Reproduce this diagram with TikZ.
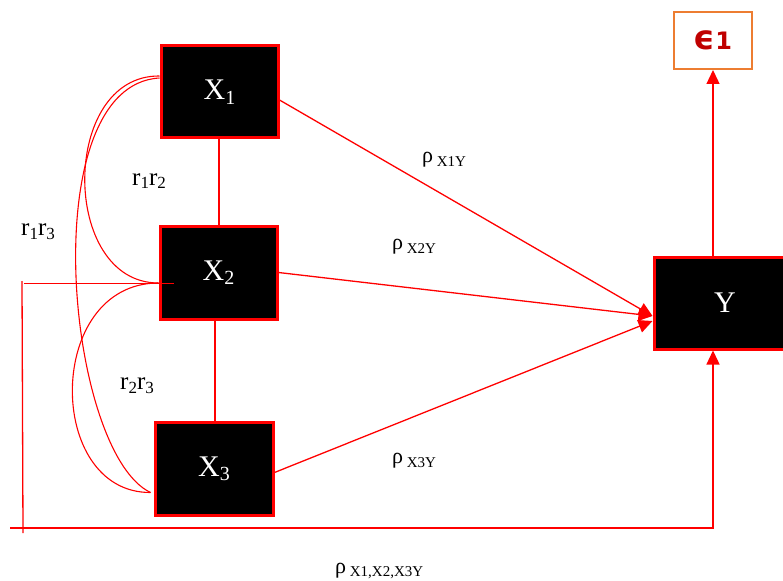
\documentclass[tikz,border=0pt]{standalone}
\usepackage{fontspec}
\setmainfont{Liberation Serif}
\newfontfamily\epsfont{DejaVu Sans}
\usetikzlibrary{arrows.meta}
\newcommand{\mysb}[2]{{\fontsize{#1}{#1}\selectfont\raisebox{-0.22em}{#2}}}
\definecolor{lnred}{HTML}{FF0000}
\definecolor{orbord}{HTML}{ED7D31}
\definecolor{dkred}{HTML}{C00000}
\tikzset{
  varbox/.style={draw=lnred, line width=3pt, fill=black, text=white, inner sep=0pt,
    font=\fontsize{30}{30}\selectfont},
  conn/.style={draw=lnred, line width=1.3pt},
  arr/.style={conn, -{Triangle[length=14pt,width=13pt]}},
  lbl/.style={inner sep=0pt, text=black, font=\fontsize{25}{25}\selectfont},
  rholbl/.style={inner sep=0pt, anchor=west, text=black, font=\fontsize{22}{22}\selectfont},
}
\begin{document}
\begin{tikzpicture}[x=1pt,y=-1pt]
\clip (0,0) rectangle (783,580);
\useasboundingbox (0,0) rectangle (783,580);
\fill[white] (0,0) rectangle (783,580);
% boxes
\node[varbox, minimum width=117pt, minimum height=92pt] (X1) at (219.5,92) {X\mysb{20}{1}};
\node[varbox, minimum width=117pt, minimum height=93pt] (X2) at (218.5,272.5) {X\mysb{20}{2}};
\node[varbox, minimum width=118pt, minimum height=93pt] (X3) at (214,468.5) {X\mysb{20}{3}};
\node[varbox, minimum width=132pt, minimum height=92pt, text width=132pt, align=center] (Y) at (720,303) {\hspace*{4pt}Y\hspace*{-6pt}};
\node[draw=orbord, line width=2pt, fill=white, minimum width=78pt, minimum height=57pt, inner sep=0pt,
  text=dkred, font=\epsfont\bfseries\fontsize{24}{24}\selectfont] (e1) at (713,40.5) {\scalebox{1.4}{ϵ}1};
% vertical links
\draw[conn] (X1.south -| 219,0) -- (X2.north -| 219,0);
\draw[conn] (X2.south -| 215,0) -- (X3.north -| 215,0);
% paths to Y
\coordinate (yin1) at ([yshift=-13pt]Y.west);
\coordinate (yin3) at ([yshift=-18pt]Y.west);
\draw[arr] ([yshift=-8pt]X1.east) -- (yin1);
\draw[arr] (X2.east) -- (yin1);
\draw[arr] ([yshift=-4pt]X3.east) -- (yin3);
% Y to e1
\draw[arr] (Y.north -| e1.south) -- (e1.south);
% correlation curves
\coordinate (c1a) at ([yshift=16pt]X1.west);
\coordinate (c1b) at ([yshift=14pt]X1.west);
\coordinate (c2) at ([yshift=-10.5pt]X2.west);
\coordinate (c3) at ([xshift=-3pt,yshift=-24pt]X3.west);
\draw[conn, line width=1.1pt] (c1a) .. controls (60,75) and (60,283) .. (c2);
\draw[conn, line width=1.1pt] (c1b) .. controls (33,85) and (66,452) .. (c3);
\draw[conn, line width=1.1pt] (c2) .. controls (45,283) and (45,493) .. (c3);
% overall path
\coordinate (hl) at (24,283.5);
\coordinate (hr) at (174,283.5);
\coordinate (vt) at (22,281);
\coordinate (vb) at (23,533);
\coordinate (bl) at (10,528);
\draw[conn] (hl) -- (hr);
\draw[conn] (vt) -- (vb);
\draw[conn, -{Triangle[length=14pt,width=13pt]}] (bl) -- (bl -| e1.south) -- (Y.south -| e1.south);
% labels
\node[lbl] (l12) at (149,181) {r\mysb{17}{1}r\mysb{17}{2}};
\node[lbl] (l13) at (38,232) {r\mysb{17}{1}r\mysb{17}{3}};
\node[lbl] (l23) at (137,386) {r\mysb{17}{2}r\mysb{17}{3}};
\node[rholbl] (p1) at (422,160) {ρ\,\mysb{15}{X1Y}};
\node[rholbl] (p2) at (392,247) {ρ\,\mysb{15}{X2Y}};
\node[rholbl] (p3) at (392,461) {ρ\,\mysb{15}{X3Y}};
\node[rholbl] (p4) at (335,571) {ρ\,\mysb{15}{X1,X2,X3Y}};
\end{tikzpicture}
\end{document}
